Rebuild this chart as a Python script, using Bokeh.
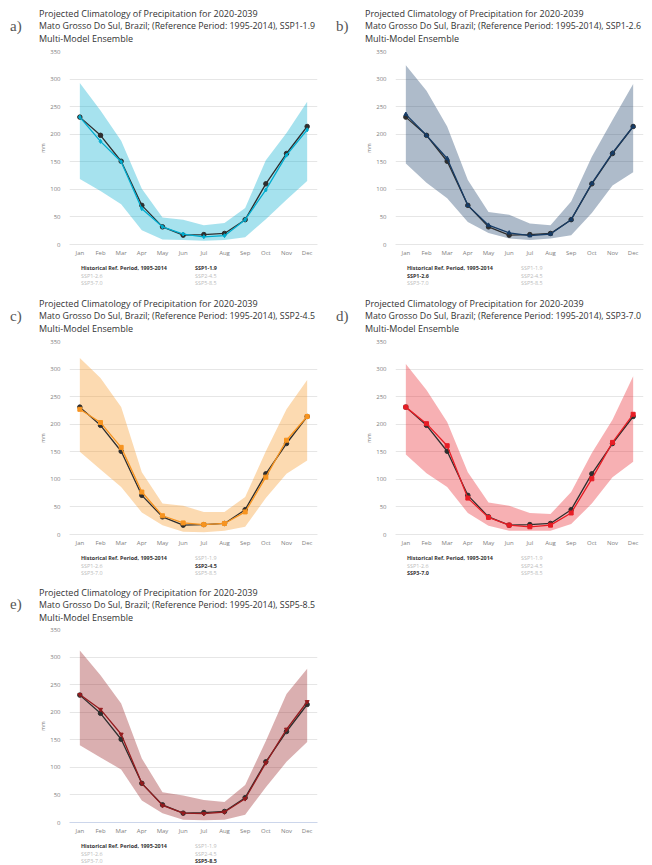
from bokeh.plotting import figure
from bokeh.models import (Range1d, FactorRange, SingleIntervalTicker,
                          Legend, LegendItem, Div)
from bokeh.layouts import row, column
from bokeh.embed import file_html
from bokeh.resources import INLINE

months = ["Jan", "Feb", "Mar", "Apr", "May", "Jun",
          "Jul", "Aug", "Sep", "Oct", "Nov", "Dec"]

hist_label = "Historical Ref. Period, 1995-2014"
hist = [231, 198, 151, 71, 32, 17, 18, 20, 45, 110, 165, 214]

scenarios = ["SSP1-1.9", "SSP1-2.6", "SSP2-4.5", "SSP3-7.0", "SSP5-8.5"]
letters = ["a)", "b)", "c)", "d)", "e)"]
title_lines = ["Projected Climatology of Precipitation for 2020-2039",
               "Mato Grosso Do Sul, Brazil; (Reference Period: 1995-2014), ",
               "Multi-Model Ensemble"]

ssp119_mean = [231, 187, 150, 65, 32, 19, 14, 16, 45, 99, 162, 208]
ssp119_hi = [293, 243, 188, 101, 49, 45, 35, 39, 66, 153, 202, 259]
ssp119_lo = [119, 97, 73, 26, 9, 8, 7, 8, 13, 46, 81, 115]

ssp126_mean = [236, 198, 156, 71, 35, 21, 16, 19, 45, 111, 166, 214]
ssp126_hi = [325, 279, 214, 117, 59, 54, 38, 35, 78, 159, 226, 291]
ssp126_lo = [147, 112, 84, 41, 21, 11, 8, 11, 17, 57, 107, 131]

ssp245_mean = [227, 203, 158, 77, 34, 21, 18, 20, 41, 104, 171, 214]
ssp245_hi = [320, 284, 231, 113, 56, 52, 41, 41, 68, 151, 227, 280]
ssp245_lo = [150, 118, 86, 40, 17, 5, 4, 7, 14, 66, 110, 134]

ssp370_mean = [231, 201, 161, 66, 31, 17, 14, 17, 39, 101, 167, 218]
ssp370_hi = [309, 262, 204, 113, 58, 52, 39, 37, 77, 148, 208, 287]
ssp370_lo = [145, 111, 86, 39, 16, 7, 7, 7, 19, 56, 104, 132]

ssp585_mean = [232, 205, 160, 71, 31, 17, 16, 19, 43, 108, 169, 219]
ssp585_hi = [312, 267, 216, 116, 55, 49, 41, 37, 68, 148, 233, 279]
ssp585_lo = [140, 118, 96, 40, 17, 5, 4, 5, 14, 64, 110, 146]

means = [ssp119_mean, ssp126_mean, ssp245_mean, ssp370_mean, ssp585_mean]
highs = [ssp119_hi, ssp126_hi, ssp245_hi, ssp370_hi, ssp585_hi]
lows = [ssp119_lo, ssp126_lo, ssp245_lo, ssp370_lo, ssp585_lo]

colors = ["#00adcf", "#173c66", "#f79420", "#e71d25", "#951b1e"]
markers = ["diamond", "triangle", "square", "square", "inverted_triangle"]

HIST_COLOR = "#2e2e2e"
TEXT = "#333333"
INACTIVE = "#cccccc"
FONT = "Open Sans"

W = 326                       # panel width
HDR_H = [46, 46, 46, 46, 44]  # header (letter + titles)
PLOT_H = 213                  # plot area incl. axes
LEG_H = [31, 31, 31, 31, 28]


def blank_fig(width, height):
    f = figure(x_range=Range1d(0, 1), y_range=Range1d(0, 1),
               width=width, height=height, output_backend="svg",
               toolbar_location=None, x_axis_type=None, y_axis_type=None,
               min_border_left=0, min_border_right=0, min_border_top=0,
               min_border_bottom=0, title=None)
    f.outline_line_color = None
    f.xgrid.grid_line_color = None
    f.ygrid.grid_line_color = None
    f.background_fill_color = "white"
    return f


def make_header(k):
    h = HDR_H[k]
    shift = 46 - h
    span = ("position:absolute;white-space:nowrap;left:{l}px;top:{t}px;"
            "font-family:{f};font-size:{s};line-height:{lh}px;color:{c};")
    texts = [title_lines[0], title_lines[1] + scenarios[k], title_lines[2]]
    sizes = ["9px", "8.8px", "9px"]
    centers = [13.8, 26.2, 38.7]
    parts = ['<span style="' + span.format(l=10, t=26 - 8 - shift,
                                           f="'Liberation Serif', serif",
                                           s="15px", lh=16, c="#555555")
             + '">' + letters[k] + "</span>"]
    for txt, size, cy in zip(texts, sizes, centers):
        parts.append('<span style="' + span.format(l=39, t=cy - 6 - shift * 0.5,
                                                   f="'Open Sans', sans-serif",
                                                   s=size, lh=12, c=TEXT)
                     + '">' + txt + "</span>")
    html = ('<div style="position:relative;width:%dpx;height:%dpx;'
            'overflow:hidden;background:white;">' % (W, h)
            + "".join(parts) + "</div>")
    return Div(text=html, width=W, height=h, margin=0)


def make_plot(k):
    p = figure(x_range=FactorRange(*months), y_range=Range1d(0, 350),
               width=W, height=PLOT_H, output_backend="svg",
               toolbar_location=None, min_border_left=69,
               min_border_right=9, min_border_top=5,
               min_border_bottom=14, title=None)
    p.outline_line_color = None
    p.xgrid.grid_line_color = None
    p.ygrid.grid_line_color = "#e6e6e6"
    p.ygrid.grid_line_width = 1

    p.yaxis.ticker = SingleIntervalTicker(interval=50, num_minor_ticks=0)
    p.yaxis.axis_line_color = None
    p.yaxis.major_tick_line_color = None
    p.yaxis.minor_tick_line_color = None
    p.yaxis.major_tick_out = 0
    p.yaxis.major_label_standoff = 9
    p.yaxis.major_label_text_font = FONT
    p.yaxis.major_label_text_font_size = "6px"
    p.yaxis.major_label_text_color = "#808080"
    p.yaxis.axis_label = "mm"
    p.yaxis.axis_label_text_font = FONT
    p.yaxis.axis_label_text_font_size = "5px"
    p.yaxis.axis_label_text_font_style = "normal"
    p.yaxis.axis_label_text_color = "#808080"
    p.yaxis.axis_label_standoff = 1

    p.xaxis.axis_line_color = "#ccd6eb" if k == 4 else "#e6e6e6"
    p.xaxis.major_tick_line_color = None
    p.xaxis.major_tick_out = 0
    p.xaxis.major_label_standoff = 4
    p.xaxis.major_label_text_font = FONT
    p.xaxis.major_label_text_font_size = "6px"
    p.xaxis.major_label_text_color = "#808080"

    col = colors[k]
    p.varea(x=months, y1=lows[k], y2=highs[k], fill_color=col, fill_alpha=0.35)
    p.line(months, hist, line_color=HIST_COLOR, line_width=1.3)
    p.scatter(months, hist, marker="circle", size=4.5,
              fill_color=HIST_COLOR, line_color=HIST_COLOR)
    p.line(months, means[k], line_color=col, line_width=1.3)
    p.scatter(months, means[k], marker=markers[k], size=4,
              fill_color=col, line_color=col)
    return p


def make_legend(k):
    # this strip is aligned with the plot frame (x from 69 to 317 on the panel)
    h = LEG_H[k]
    f = blank_fig(W, h)
    entries = [(hist_label, "circle", HIST_COLOR, True)]
    for j, name in enumerate(scenarios):
        active = j == k
        entries.append((name, markers[j], colors[j] if active else INACTIVE, active))
    rows_y = [9, 16.5, 24]
    cols_x = [0, 114]
    for i, (label, marker, color, active) in enumerate(entries):
        r, c = divmod(i, 2)
        lr = f.line(x=[], y=[], line_color=color, line_width=1.3)
        sr = f.scatter(x=[], y=[], marker=marker, size=5,
                       fill_color=color, line_color=color)
        leg = Legend(items=[LegendItem(label=label, renderers=[lr, sr])],
                     location=(cols_x[c], h - rows_y[r] - 5),
                     orientation="horizontal", padding=0, margin=0, spacing=0,
                     border_line_color=None, background_fill_alpha=0,
                     glyph_width=10, glyph_height=10, label_height=10,
                     label_standoff=2, label_text_font=FONT,
                     label_text_font_size="5.4px",
                     label_text_font_style="bold" if active else "normal",
                     label_text_color=TEXT if active else "#bbbbbb",
                     label_text_baseline="middle")
        f.add_layout(leg)
    return f


panels = [column(make_header(k), make_plot(k), make_legend(k), spacing=0)
          for k in range(5)]

page = column(row(panels[0], panels[1], spacing=0),
              row(panels[2], panels[3], spacing=0),
              row(panels[4], spacing=0),
              spacing=0)

open("out.html", "w").write(file_html(page, INLINE))
